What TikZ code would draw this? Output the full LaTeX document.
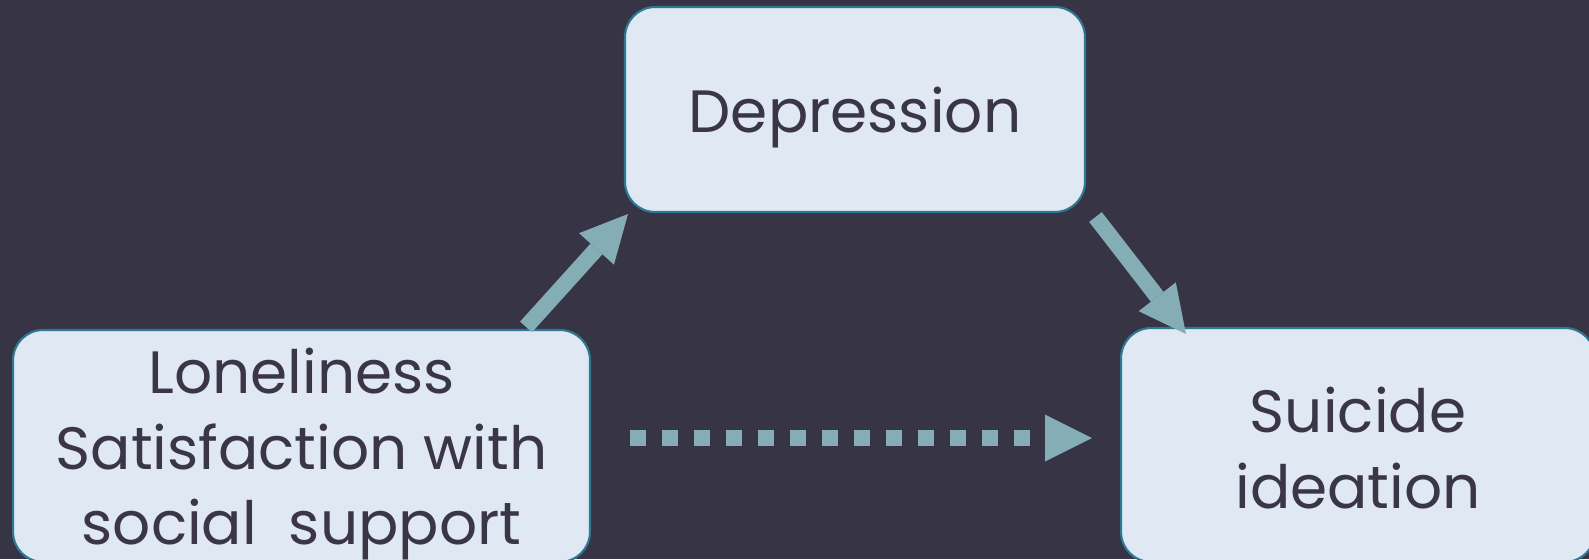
\documentclass[tikz,border=0pt]{standalone}
\usepackage{fontspec}
\setmainfont{Poppins}
\usetikzlibrary{arrows.meta}

\definecolor{bgdark}{HTML}{373445}
\definecolor{boxfill}{HTML}{E0E8F3}
\definecolor{boxline}{HTML}{2D7893}
\definecolor{txtdark}{HTML}{3A3648}
\definecolor{arrowteal}{HTML}{84ADB6}

\begin{document}
\begin{tikzpicture}[x=0.02cm, y=-0.02cm,
  varbox/.style={draw=boxline, line width=1.2pt, fill=boxfill, rounded corners=0.6cm,
    align=center, text=txtdark, inner sep=0pt, text depth=0cm, font=\fontsize{34}{43.2}\selectfont},
  effect/.style={draw=arrowteal, line width=0.32cm,
    -{Triangle[length=0.94cm, width=0.94cm, line width=0pt]}},
  direct/.style={effect, dash pattern=on 0.32cm off 0.32cm}]
\useasboundingbox (0,0) rectangle (1589,559);
\fill[bgdark] (0,0) rectangle (1589,559);

% Variables
\node[varbox, minimum width=9.2cm, minimum height=4.1cm,
  text height=0.92cm] (depr) at (855,109.5) {Depression};
\node[varbox, minimum width=11.54cm, minimum height=4.64cm,
  text height=3.96cm] (lonely) at (301.5,446)
  {Loneliness\\Satisfaction with\\social\ \ support};
\node[varbox, minimum width=9.48cm, minimum height=4.68cm,
  text height=2.53cm] (suic) at (1358,445)
  {Suicide\\ideation};

% Paths
\draw[effect] ([xshift=-1.3cm, yshift=0.04cm]lonely.north east) -- ([xshift=0.08cm, yshift=-0.02cm]depr.south west);
\draw[effect] ([xshift=0.19cm, yshift=-0.08cm]depr.south east) -- ([xshift=1.32cm, yshift=-0.14cm]suic.north west);
\draw[direct] ([xshift=0.78cm, yshift=0.16cm]lonely.east) -- ([xshift=-0.56cm, yshift=0.14cm]suic.west);

\end{tikzpicture}
\end{document}
